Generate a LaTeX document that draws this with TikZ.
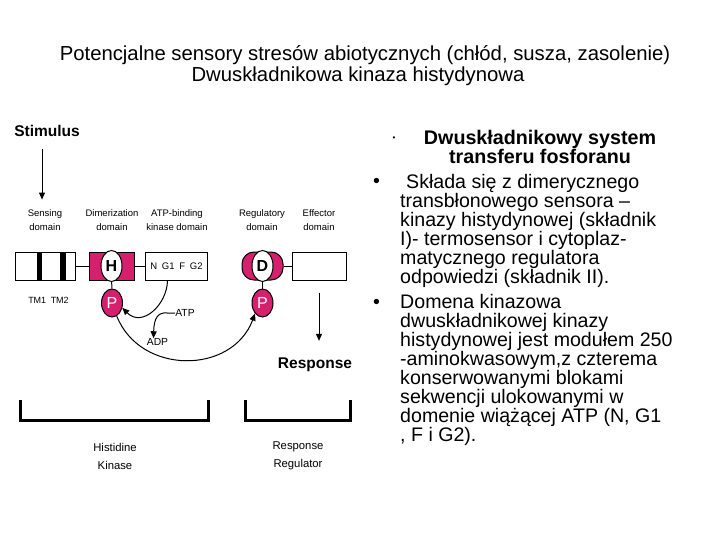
\documentclass[tikz,border=0pt]{standalone}
\usepackage{fontspec}
\setmainfont{Liberation Sans}
\usetikzlibrary{positioning, arrows.meta, shapes.geometric, calc}
\definecolor{rubine}{RGB}{214,32,110}

\begin{document}
\begin{tikzpicture}[x=1pt, y=-1pt,
  titletxt/.style={font=\fontsize{20.3}{21}\selectfont, inner sep=0pt, anchor=base},
  dombox/.style={draw, line width=1pt, minimum height=28pt, inner sep=0pt, fill=white},
  res/.style={draw, ellipse, line width=1pt, fill=white, minimum width=21pt, minimum height=31pt,
              inner sep=0pt, font=\fontsize{16}{16}\selectfont\bfseries},
  phos/.style={res, fill=rubine, text=white, minimum height=28pt,
               font=\fontsize{16}{16}\selectfont},
  lbl/.style={font=\fontsize{9.5}{13.5}\selectfont, align=center, inner sep=0pt},
  big/.style={font=\fontsize{15.5}{16}\selectfont\bfseries, inner sep=0pt},
  captxt/.style={font=\fontsize{11.3}{18}\selectfont, align=center, inner sep=0pt},
  arr/.style={-{Triangle[length=7pt, width=6pt]}, line width=1pt},
  link/.style={line width=1pt},
  bracket/.style={line width=3pt},
  body/.style={font=\fontsize{19.6}{19}\selectfont, align=left, inner sep=0pt, anchor=base west},
]
\useasboundingbox[fill=white] (0,0) rectangle (720,540);

% --- Title ---
\node[titletxt] (t1) at (365,61) {Potencjalne sensory stresów abiotycznych (chłód, susza, zasolenie)};
\node[titletxt] (t2) at (358,82) {Dwuskładnikowa kinaza histydynowa};

% --- Stimulus and domain labels ---
\node[big] (stim) at (47,131) {Stimulus};
\node[lbl] (senslbl) at (45,220) {Sensing\\domain};
\node[lbl] (dimlbl) at (112,220) {Dimerization\\domain};
\node[lbl] (atplbl) at (177,220) {ATP-binding\\kinase domain};
\node[lbl] (reglbl) at (262,220) {Regulatory\\domain};
\node[lbl] (efflbl) at (319,220) {Effector\\domain};
\draw[arr] ([shift={(-5,12)}]stim.south) -- ([shift={(-3,-10)}]senslbl.north);

% --- Histidine kinase ---
\node[dombox, minimum width=60pt] (sense) at (45,266) {};
\fill (37,252) rectangle (42,280);
\fill (60,252) rectangle (66,280);
\node[dombox, fill=rubine, minimum width=45pt] (dimer) at (111.5,266) {};
\node[res] (his) at (dimer) {H};
\node[dombox, minimum width=62pt, font=\fontsize{9.5}{10}\selectfont] (atpbd) at (176.5,266) {N\enspace G1\enspace F\enspace G2};
\draw[link] (sense) -- (dimer);
\draw[link] (dimer) -- (atpbd);
\node[lbl, font=\fontsize{9}{10}\selectfont] (tm) at (48.5,300) {TM1\enspace TM2};
\node[phos] (p1) at (112,303) {P};
\draw[link] (his) -- (p1);

% --- Response regulator ---
\node[dombox, fill=rubine, rounded corners=12pt, minimum width=41pt] (regd) at (262.5,266) {};
\node[res] (asp) at (regd) {D};
\node[dombox, minimum width=54pt] (eff) at (319,266) {};
\draw[link] (regd) -- (eff);
\node[phos] (p2) at (262.5,303) {P};
\draw[link] (asp) -- (p2);

% --- Phosphotransfer ---
\node[lbl, font=\fontsize{10.3}{11}\selectfont] (atp) at (185,313) {ATP};
\node[lbl, font=\fontsize{10.3}{11}\selectfont] (adp) at (157.5,342) {ADP};
\draw[arr] ([xshift=-9pt]atpbd.south) .. controls (167,305) and (142,328) .. (p1.-25);
\draw[arr] (atp.west) -- ++(-8,0) .. controls (158,312) and (154,318) .. ([xshift=-4pt]adp.north);
\draw[arr] (p1.-70) .. controls (140,375) and (232,375) .. (p2.-125);

% --- Response ---
\node[big] (resp) at (315,365) {Response};
\draw[arr, shorten >=17pt] ([yshift=-12pt]eff.south) -- (resp.north -| eff.south);

% --- Brackets ---
\draw[bracket] (20,400) -- (20,420) -- (208,420) -- (208,400);
\draw[bracket] (245,400) -- (245,420) -- (350,420) -- (350,400);
\node[captxt] (hk) at (115,456) {Histidine\\Kinase};
\node[captxt] (rr) at (298,456) {Response\\Regulator};

% --- Text block ---
\node[font=\fontsize{8}{8}\selectfont, inner sep=0pt] (dot0) at (394,139) {•};
\node[font=\fontsize{19.7}{18}\selectfont\bfseries, align=center, inner sep=0pt, anchor=base]
  (head) at (540,164) {Dwuskładnikowy system\\transferu fosforanu};
\node[body] (bul1) at (373,188) {•};
\node[body] (txt1) at (400,283) {\hspace*{6pt}Składa się z dimerycznego\\
  transbłonowego sensora –\\
  kinazy histydynowej (składnik\\
  I)- termosensor i cytoplaz-\\
  matycznego regulatora\\
  odpowiedzi (składnik II).};
\node[body] (bul2) at (373,308) {•};
\node[body] (txt2) at (400,441) {Domena kinazowa\\
  dwuskładnikowej kinazy\\
  histydynowej jest modułem 250\\
  -aminokwasowym,z czterema\\
  konserwowanymi blokami\\
  sekwencji ulokowanymi w\\
  domenie wiążącej ATP (N, G1\\
  , F i G2).};
\end{tikzpicture}
\end{document}
